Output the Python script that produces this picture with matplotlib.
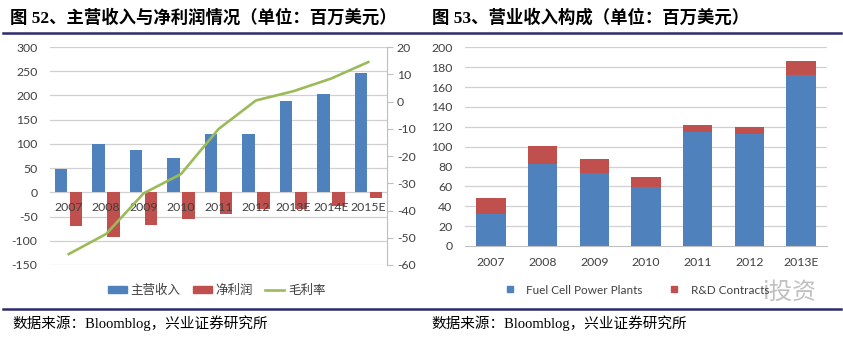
import numpy as np
import matplotlib
matplotlib.use("Agg")
import matplotlib.pyplot as plt
from matplotlib.lines import Line2D
from matplotlib.patches import Patch
from matplotlib.transforms import offset_copy

plt.rcParams['font.family'] = ['Lato', 'Noto Sans CJK SC']
plt.rcParams['axes.unicode_minus'] = False

# 主营收入 / 净利润 / 毛利率
years_a = ['2007', '2008', '2009', '2010', '2011', '2012', '2013E', '2014E', '2015E']
revenue = [48.6, 100, 87.7, 70, 121.5, 120, 187.7, 204, 246]
net_profit = [-68.5, -92.5, -68, -55, -45, -35, -33.5, -29, -12]
gross_margin = [-56, -48.6, -33.7, -26.6, -10.1, 0.4, 3.8, 8.4, 14.5]

# 营业收入构成
years_b = ['2007', '2008', '2009', '2010', '2011', '2012', '2013E']
power_plants = [32.3, 82.7, 73, 59, 114.7, 112.3, 172.3]
rd_contracts = [15.7, 17.6, 14.3, 10.7, 7.0, 7.4, 14.4]

BLUE = '#4f81bd'
RED = '#c0504d'
GREEN = '#9bbb59'
GRID = '#d0d0d0'
TXT = '#404040'
NAVY = '#2d2b6b'

fig = plt.figure(figsize=(8.43, 3.40), dpi=100)

# ---- 左图
ax = fig.add_axes([0.0593, 0.2206, 0.3998, 0.641])
x = np.arange(len(years_a))
w = 0.33
ax.bar(x - 0.2, revenue, w, color=BLUE, zorder=2)
ax.bar(x + 0.2, net_profit, w, color=RED, zorder=2)
ax.set_xlim(-0.5, len(years_a) - 0.5)
ax.set_ylim(-150, 300)
ax.set_yticks(np.arange(-150, 301, 50))
for v in np.arange(-150, 301, 50):
    ax.axhline(v, color=GRID, lw=0.9, zorder=0)
ax.set_xticks([])
for s in ax.spines.values():
    s.set_visible(False)
ax.tick_params(axis='y', length=0, pad=9, labelsize=8.8, labelcolor=TXT)
lab_tr = offset_copy(ax.transData, fig=fig, x=0, y=-10, units='dots')
for i, yr in enumerate(years_a):
    ax.text(i, 0, yr, transform=lab_tr, ha='center', va='top',
            fontsize=8.8, color=TXT, zorder=5)

ax2 = ax.twinx()
ax2.plot(x, gross_margin, color=GREEN, lw=1.9)
ax2.set_ylim(-60, 20)
ax2.set_yticks(np.arange(-60, 21, 10))
for k in ['top', 'left', 'bottom']:
    ax2.spines[k].set_visible(False)
ax2.spines['right'].set_color('#bfbfbf')
ax2.tick_params(axis='y', length=4, color='#bfbfbf', pad=3,
                labelsize=8.8, labelcolor=TXT)

fig.legend(handles=[Patch(color=BLUE, label='主营收入'),
                    Patch(color=RED, label='净利润'),
                    Line2D([], [], color=GREEN, lw=1.9, label='毛利率')],
           loc='center', bbox_to_anchor=(0.257, 0.147), ncol=3, frameon=False,
           fontsize=9, handlelength=1.5, handleheight=0.5, handletextpad=0.3,
           columnspacing=1.0, labelcolor=TXT)

# ---- 右图
bx = fig.add_axes([0.5516, 0.2765, 0.4294, 0.5844])
xb = np.arange(len(years_b))
bx.bar(xb, power_plants, 0.57, color=BLUE, zorder=2)
bx.bar(xb, rd_contracts, 0.57, bottom=power_plants, color=RED, zorder=2)
bx.set_xlim(-0.5, len(years_b) - 0.5)
bx.set_ylim(0, 200)
bx.set_yticks(np.arange(0, 201, 20))
for v in np.arange(20, 201, 20):
    bx.axhline(v, color=GRID, lw=0.9, zorder=0)
bx.set_xticks(xb)
bx.set_xticklabels(years_b)
for k in ['top', 'left', 'right']:
    bx.spines[k].set_visible(False)
bx.spines['bottom'].set_color('#bfbfbf')
bx.tick_params(axis='y', length=0, pad=9, labelsize=8.8, labelcolor=TXT)
bx.tick_params(axis='x', length=0, pad=8, labelsize=8.8, labelcolor=TXT)

fig.legend(handles=[Line2D([], [], ls='', marker='s', ms=5, color=BLUE,
                           label='Fuel Cell Power Plants'),
                    Line2D([], [], ls='', marker='s', ms=5, color=RED,
                           label='R&D Contracts')],
           loc='center', bbox_to_anchor=(0.755, 0.147), ncol=2, frameon=False,
           fontsize=8.5, handlelength=1.0, handletextpad=0.9,
           columnspacing=2.2, labelcolor=TXT)

fig.text(0.937, 0.142, 'i投资', family=['DejaVu Sans', 'Noto Sans CJK SC'],
         fontsize=17, color='#c0c0c0', ha='center', va='center')

# ---- 标题、分隔线、来源
serif_cjk = ['Liberation Serif', 'Noto Sans CJK SC']
fig.text(0.012, 0.947, '图 52、主营收入与净利润情况（单位：百万美元）',
         family=serif_cjk, fontweight='bold', fontsize=12.5, va='center')
fig.text(0.512, 0.947, '图 53、营业收入构成（单位：百万美元）',
         family=serif_cjk, fontweight='bold', fontsize=12.5, va='center')
for yl in (0.903, 0.091):
    fig.add_artist(Line2D([0.004, 0.998], [yl, yl], transform=fig.transFigure,
                          color=NAVY, lw=1.8))
fig.text(0.015, 0.05, '数据来源：Bloomblog，兴业证券研究所',
         family=serif_cjk, fontsize=10.5, va='center')
fig.text(0.512, 0.05, '数据来源：Bloomblog，兴业证券研究所',
         family=serif_cjk, fontsize=10.5, va='center')

fig.savefig('out.png', dpi=100)
